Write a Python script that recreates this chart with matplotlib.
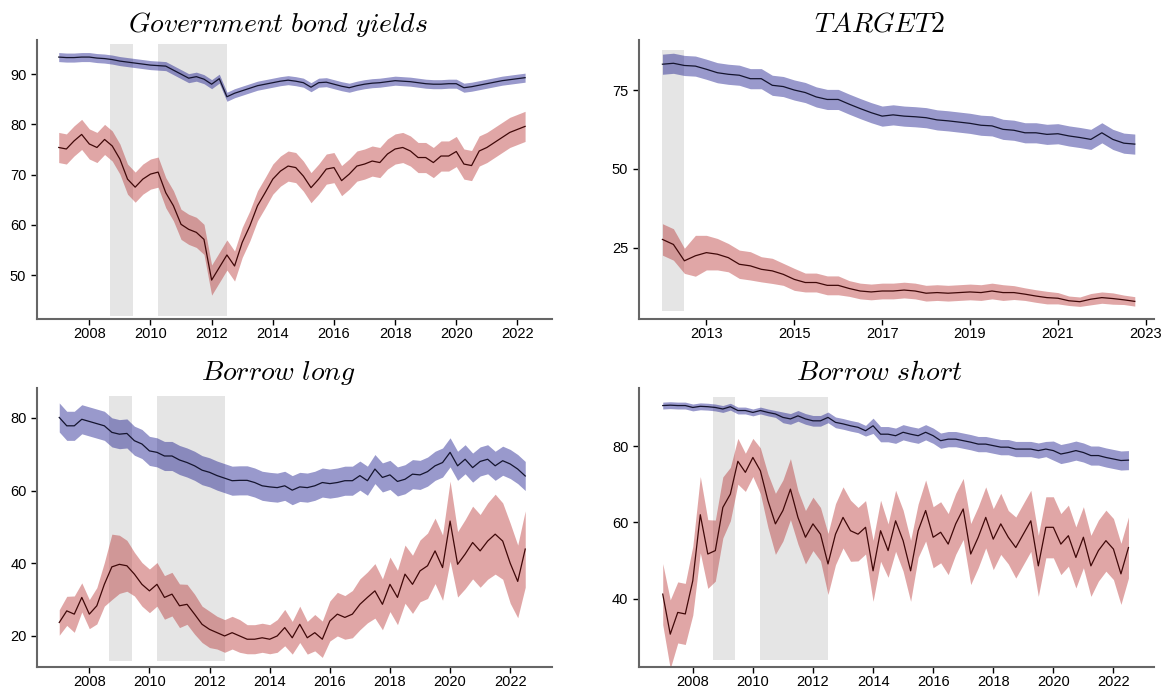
import numpy as np
import matplotlib
matplotlib.use('Agg')
import matplotlib.pyplot as plt

plt.rcParams['font.family'] = ['Liberation Sans', 'DejaVu Sans']
plt.rcParams['mathtext.fontset'] = 'cm'

# --- data (quarterly) ---
# Government bond yields, 2007Q1 .. 2022Q2
gov_blue = [93.4, 93.3, 93.3, 93.4, 93.4, 93.2, 93.1, 92.9, 92.6, 92.4, 92.2, 92.0,
            91.8, 91.7, 91.6, 90.8, 90.0, 89.2, 89.5, 89.0, 88.0, 89.1, 85.5, 86.2,
            86.7, 87.2, 87.7, 88.0, 88.3, 88.6, 88.8, 88.6, 88.3, 87.4, 88.3, 88.4,
            88.0, 87.6, 87.3, 87.7, 88.0, 88.2, 88.3, 88.5, 88.7, 88.6, 88.5, 88.3,
            88.1, 88.0, 88.0, 88.1, 88.1, 87.3, 87.5, 87.8, 88.1, 88.4, 88.7, 88.9,
            89.1, 89.3]
gov_red = [75.4, 75.1, 76.7, 78.0, 76.1, 75.4, 77.0, 75.7, 73.1, 69.1, 67.5, 69.1,
           70.1, 70.5, 66.4, 63.8, 60.1, 59.1, 58.5, 57.1, 49.0, 51.5, 54.0, 51.8,
           56.5, 59.8, 63.8, 66.4, 69.1, 70.7, 71.7, 71.4, 69.7, 67.4, 69.1, 71.1,
           71.4, 68.8, 70.1, 71.7, 72.1, 72.7, 72.4, 74.1, 75.1, 75.4, 74.7, 73.4,
           73.4, 72.4, 73.7, 73.7, 74.6, 72.1, 71.8, 74.7, 75.4, 76.4, 77.4, 78.4,
           79.0, 79.6]
gov_blue_hw = 0.9
gov_red_hw = 3.0

# TARGET2, 2012Q1 .. 2022Q4
t2_blue = [83.3, 83.6, 82.9, 82.7, 81.7, 80.6, 80.1, 79.8, 78.7, 78.7, 76.6, 76.2,
           75.1, 74.3, 72.9, 72.1, 72.1, 70.6, 69.2, 67.9, 66.8, 67.2, 66.8, 66.6,
           66.3, 65.6, 65.3, 64.9, 64.5, 63.9, 63.7, 62.6, 62.3, 61.5, 61.5, 61.0,
           61.2, 60.5, 60.0, 59.4, 61.5, 59.4, 58.2, 57.9]
t2_red = [27.6, 26.0, 20.8, 22.4, 23.4, 22.9, 21.8, 19.7, 19.2, 18.1, 17.6, 16.5,
          14.9, 13.9, 13.9, 13.0, 13.0, 12.0, 11.2, 10.9, 11.2, 11.2, 11.5, 11.2,
          10.5, 10.7, 10.5, 10.7, 10.9, 10.7, 11.2, 10.7, 10.7, 10.2, 9.6, 9.1,
          8.9, 8.1, 7.8, 8.6, 9.1, 8.8, 8.4, 7.9]
t2_blue_hw = 3.2
t2_red_hw = [5, 5, 4, 6.5, 5.5, 5, 4.5, 4.5, 4.5, 4, 4, 3.5,
             3.5, 3, 3, 3, 3, 2.5, 2.5, 2.5, 2.5, 2.5, 2.5, 2.5,
             2.5, 2.5, 2.5, 2.5, 2.5, 2.5, 2.5, 2.5, 2.2, 2, 2, 2,
             1.8, 1.5, 1.5, 1.8, 1.8, 1.8, 1.5, 1.5]

# Borrow long, 2007Q1 .. 2022Q3
bl_blue = [80.1, 77.8, 77.8, 79.6, 79.0, 78.4, 77.8, 76.0, 75.5, 75.7, 73.7, 72.8,
           70.9, 70.5, 69.5, 69.5, 68.4, 67.7, 66.8, 65.6, 65.0, 64.1, 63.4, 62.7,
           62.8, 62.8, 62.2, 61.3, 61.0, 60.8, 61.3, 60.1, 61.0, 60.8, 61.3, 62.2,
           61.9, 62.2, 62.7, 62.7, 64.1, 62.7, 65.9, 63.6, 64.3, 62.5, 63.1, 64.5,
           64.3, 65.2, 66.8, 67.7, 70.5, 66.8, 68.6, 66.3, 68.0, 68.6, 66.8, 68.2,
           67.3, 65.9, 64.0]
bl_red = [23.7, 26.9, 26.0, 30.6, 26.0, 28.3, 34.2, 39.0, 39.7, 39.3, 37.0, 34.2,
          32.4, 34.2, 30.6, 31.5, 28.3, 28.7, 26.0, 23.2, 21.8, 20.9, 20.0, 20.9,
          20.0, 19.1, 19.1, 19.5, 19.1, 20.0, 22.3, 19.5, 23.2, 19.5, 20.9, 19.1,
          24.1, 26.0, 25.1, 26.0, 28.7, 30.6, 32.4, 28.7, 34.2, 30.6, 37.0, 34.2,
          37.9, 39.3, 43.4, 38.8, 51.6, 39.7, 42.5, 45.7, 43.4, 46.1, 48.0, 46.1,
          40.0, 35.0, 43.9]
bl_blue_hw = 4.0
bl_red_hw = [3.5, 4, 5, 4, 4, 5, 6, 9, 8, 7, 6, 6,
             6, 6, 6, 6, 6, 5.5, 5.5, 5, 5, 4.5, 4.5, 4.5,
             4.5, 4, 4, 4, 4, 4.5, 5, 4.5, 5, 4.5, 5, 5,
             5.5, 6, 6, 6.5, 7, 7, 7.5, 7, 7.5, 7.5, 8, 8,
             8.5, 9, 9, 9, 11, 9, 9.5, 10, 10, 10.5, 11, 10.5,
             11, 10, 10.5]

# Borrow short, 2007Q1 .. 2022Q3
bs_blue = [90.6, 90.7, 90.6, 90.6, 90.1, 90.4, 90.3, 90.1, 89.7, 90.3, 89.3, 89.3,
           88.8, 89.3, 88.8, 88.4, 87.5, 87.1, 87.9, 87.1, 86.6, 86.6, 87.5, 86.2,
           85.8, 85.3, 84.9, 84.0, 85.3, 83.1, 83.1, 82.7, 83.6, 83.1, 82.7, 83.6,
           82.7, 81.4, 81.8, 81.8, 81.4, 81.0, 80.5, 80.5, 80.1, 79.7, 79.7, 79.2,
           79.2, 79.2, 78.8, 79.2, 78.8, 77.9, 78.3, 78.8, 78.3, 77.5, 77.5, 77.0,
           76.6, 76.2, 76.3]
bs_red = [41.2, 30.7, 36.4, 36.0, 44.7, 62.0, 51.7, 52.6, 63.9, 67.4, 76.0, 73.1,
          77.0, 73.5, 65.7, 59.6, 63.1, 68.7, 61.3, 56.1, 59.6, 56.9, 49.1, 56.9,
          61.3, 57.8, 56.9, 58.7, 47.3, 57.8, 52.6, 60.4, 55.2, 47.3, 57.8, 63.1,
          56.1, 57.4, 54.3, 59.6, 63.5, 51.7, 56.1, 61.3, 55.6, 59.6, 56.1, 53.4,
          56.9, 60.4, 48.6, 58.7, 58.7, 54.3, 56.5, 50.8, 56.1, 48.6, 52.6, 55.2,
          53.0, 46.5, 53.4]
bs_blue_hw = [0.9] * 16 + [1.4] * 12 + [2.0] * 24 + [2.5] * 11
bs_red_hw = [8, 9, 8, 8, 9, 10, 9, 8, 8, 7, 6, 5,
             5, 6, 7, 8, 8, 8, 7, 7, 7, 7, 8, 8,
             8, 8, 7, 7, 8, 8, 7, 8, 8, 8, 7, 8,
             8, 8, 8, 8, 8, 8, 8, 8, 8, 8, 7, 8,
             8, 8, 8, 8, 8, 8, 8, 8, 8, 8, 8, 8,
             8, 8, 8]

crisis_periods = [(2008.67, 2009.42), (2010.25, 2012.5)]
t2_periods = [(2012.0, 2012.5)]

panels = [
    dict(title='Government\\ bond\\ yields', start=2007.0, blue=gov_blue, red=gov_red,
         bhw=gov_blue_hw, rhw=gov_red_hw, periods=crisis_periods,
         xlim=(2006.28, 2023.12), ylim=(41.25, 96.8), xt=range(2008, 2023, 2),
         yt=[50, 60, 70, 80, 90], span=(0.011, 0.986),
         rect=[36.7, 40, 515, 279]),
    dict(title='TARGET2', start=2012.0, blue=t2_blue, red=t2_red,
         bhw=t2_blue_hw, rhw=t2_red_hw, periods=t2_periods,
         xlim=(2011.46, 2023.18), ylim=(2.3, 91.0), xt=range(2013, 2024, 2),
         yt=[25, 50, 75], span=(0.03, 0.964),
         rect=[638.7, 40, 515, 279]),
    dict(title='Borrow\\ long', start=2007.0, blue=bl_blue, red=bl_red,
         bhw=bl_blue_hw, rhw=bl_red_hw, periods=crisis_periods,
         xlim=(2006.26, 2023.39), ylim=(11.46, 88.2), xt=range(2008, 2023, 2),
         yt=[20, 40, 60, 80], span=(0.021, 0.972),
         rect=[37, 388, 515, 279]),
    dict(title='Borrow\\ short', start=2007.0, blue=bs_blue, red=bs_red,
         bhw=bs_blue_hw, rhw=bs_red_hw, periods=crisis_periods,
         xlim=(2006.2, 2023.34), ylim=(22.1, 95.2), xt=range(2008, 2023, 2),
         yt=[40, 60, 80], span=(0.025, 0.969),
         rect=[638.7, 388, 515, 279]),
]

W, H = 1169, 689
fig = plt.figure(figsize=(W / 100, H / 100), dpi=100)

for p in panels:
    l, t, w, h = p['rect']
    ax = fig.add_axes([l / W, 1 - (t + h) / H, w / W, h / H])
    for a, b in p['periods']:
        ax.axvspan(a, b, ymin=p['span'][0], ymax=p['span'][1],
                   color='grey', alpha=0.2, lw=0, zorder=0)
    for vals, hw, fc, lc in [(p['blue'], p['bhw'], 'navy', '#14142e'),
                             (p['red'], p['rhw'], 'firebrick', '#3f0808')]:
        v = np.array(vals)
        x = p['start'] + np.arange(len(v)) / 4
        hw = np.broadcast_to(np.array(hw, dtype=float), v.shape)
        ax.fill_between(x, v - hw, v + hw, color=fc, alpha=0.4, lw=0, zorder=1)
        ax.plot(x, v, color=lc, lw=0.9, zorder=2)
    ax.set_xlim(*p['xlim'])
    ax.set_ylim(*p['ylim'])
    ax.set_xticks(list(p['xt']))
    ax.set_yticks(p['yt'])
    ax.tick_params(labelsize=10.5, length=4, width=1, direction='out')
    ax.tick_params(axis='x', pad=1.5)
    for s in ['top', 'right']:
        ax.spines[s].set_visible(False)
    for s in ['left', 'bottom']:
        ax.spines[s].set_color('#666666')
        ax.spines[s].set_linewidth(1.5)
    ax.set_title(r'$\mathit{' + p['title'] + '}$', fontsize=20, x=0.468, pad=6)

fig.savefig('out.png', dpi=100)
